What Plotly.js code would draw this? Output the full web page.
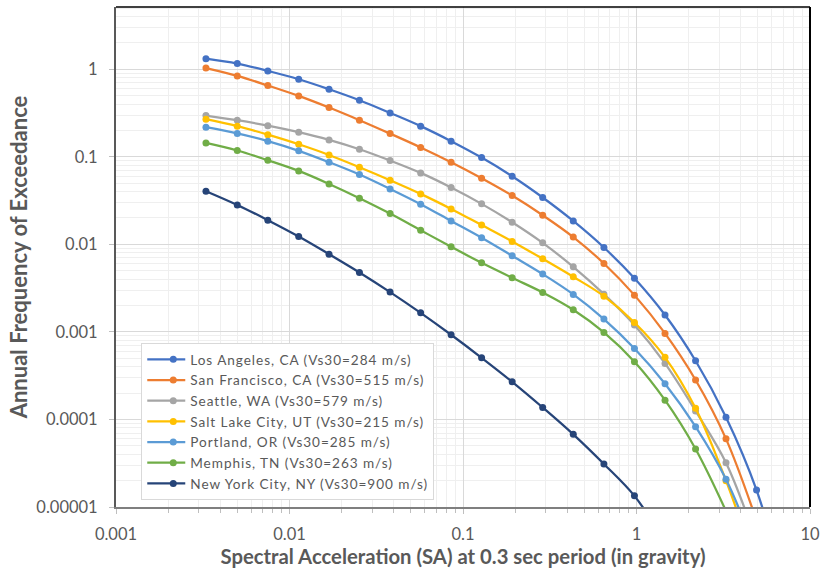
<!DOCTYPE html>
<html><head><meta charset="utf-8">
<script src="https://cdn.plot.ly/plotly-3.0.1.min.js"></script>
<style>
html,body{margin:0;padding:0;background:#fff}
#chart{width:821px;height:575px}
.legendtext{letter-spacing:0.95px}
.legendsymbols{transform:translateX(7px)}
</style>
</head><body><div id="chart"></div>
<script>
// Spectral acceleration (g) sample points
const SA = [0.0033,0.005,0.0075,0.0113,0.0169,0.0253,0.038,0.057,0.0854,0.128,0.192,0.288,0.432,0.649,0.973,1.46,2.19,3.28,4.92,7.38];

const seriesNames = [
  'Los Angeles, CA (Vs30=284 m/s)',
  'San Francisco, CA (Vs30=515 m/s)',
  'Seattle, WA (Vs30=579 m/s)',
  'Salt Lake City, UT (Vs30=215 m/s)',
  'Portland, OR (Vs30=285 m/s)',
  'Memphis, TN (Vs30=263 m/s)',
  'New York City, NY (Vs30=900 m/s)'
];

const losAngeles   = [1.32,1.16,0.957,0.769,0.591,0.443,0.317,0.224,0.151,0.098,0.060,0.0343,0.0185,0.0092,0.0041,0.00156,0.000468,0.000106,0.0000156,0.000001];
const sanFrancisco = [1.03,0.84,0.652,0.496,0.365,0.262,0.184,0.128,0.0868,0.057,0.0361,0.0215,0.0121,0.00605,0.00263,0.00096,0.000282,0.00006,0.000007,null];
const seattle      = [0.296,0.262,0.227,0.191,0.156,0.122,0.0906,0.0655,0.0446,0.029,0.0179,0.0104,0.00553,0.0027,0.0012,0.000437,0.000125,0.000032,0.000004,null];
const saltLake     = [0.269,0.224,0.179,0.139,0.105,0.076,0.054,0.0377,0.0254,0.0166,0.0108,0.00684,0.00426,0.00256,0.00128,0.000512,0.000134,0.00002,0.000002,null];
const portland     = [0.218,0.185,0.151,0.117,0.0868,0.0628,0.043,0.0288,0.0185,0.0119,0.0074,0.00457,0.00268,0.0014,0.000646,0.000256,0.0000826,0.0000207,0.000003,null];
const memphis      = [0.144,0.118,0.0914,0.069,0.049,0.0337,0.0225,0.0145,0.00936,0.00615,0.00415,0.00282,0.00179,0.000986,0.000456,0.000166,0.000046,0.000009,null,null];
const newYork      = [0.0405,0.0282,0.0189,0.0123,0.00773,0.00478,0.00285,0.00165,0.000927,0.000506,0.000269,0.000137,0.0000676,0.000031,0.0000134,0.000004,null,null,null,null];

const xTickVals = [0.001,0.01,0.1,1,10];
const xTickText = ['0.001','0.01','0.1','1','10'];
const yTickVals = [0.00001,0.0001,0.001,0.01,0.1,1];
const yTickText = ['0.00001','0.0001','0.001','0.01','0.1','1'];

const seriesValues = [losAngeles,sanFrancisco,seattle,saltLake,portland,memphis,newYork];
const colors = ['#4472C4','#ED7D31','#A5A5A5','#FFC000','#5B9BD5','#70AD47','#264478'];

function minorVals(lo, hi){
  const out = [];
  for (let e = lo; e < hi; e++) {
    for (let d = 2; d <= 9; d++) out.push(d * Math.pow(10, e));
  }
  return out;
}

const traces = seriesValues.map((vals, i) => ({
  x: SA, y: vals, name: seriesNames[i], type: 'scatter', mode: 'lines+markers',
  line: {color: colors[i], width: 2.25, shape: 'spline', smoothing: 1},
  marker: {color: colors[i], size: 7},
  connectgaps: false
}));

const font = 'Lato, "Open Sans", sans-serif';
const layout = {
  width: 821, height: 575,
  margin: {l: 116, r: 11, t: 7, b: 68},
  paper_bgcolor: '#fff', plot_bgcolor: '#fff',
  font: {family: font, color: '#595959', size: 16.5},
  showlegend: true,
  legend: {
    x: 0.0364, y: 0.328, xanchor: 'left', yanchor: 'top',
    bgcolor: '#fff', bordercolor: '#d9d9d9', borderwidth: 1,
    font: {family: font, size: 13.6, color: '#595959'},
    tracegroupgap: 0, itemwidth: 38
  },
  xaxis: {
    type: 'log', range: [-3, 1],
    tickmode: 'array', tickvals: xTickVals, ticktext: xTickText,
    showgrid: true, gridcolor: '#d9d9d9', gridwidth: 1,
    ticks: 'outside', ticklen: 5, tickcolor: '#bfbfbf',
    showline: true, linecolor: '#7f7f7f', linewidth: 2,
    zeroline: false,
    minor: {tickmode: 'array', tickvals: minorVals(-3, 1), showgrid: true, gridcolor: '#efefef', ticks: 'outside', ticklen: 4, tickcolor: '#bfbfbf'},
    tickfont: {size: 16.5, color: '#595959'},
    ticklabelstandoff: 6,
    title: {text: 'Spectral Acceleration (SA) at 0.3 sec period (in gravity)', font: {size: 20.3, color: '#595959', family: font, weight: 'bold'}, standoff: 3}
  },
  yaxis: {
    type: 'log', range: [-5, 0.711],
    tickmode: 'array', tickvals: yTickVals, ticktext: yTickText,
    showgrid: true, gridcolor: '#d9d9d9', gridwidth: 1,
    ticks: 'outside', ticklen: 5, tickcolor: '#bfbfbf',
    showline: true, linecolor: '#595959', linewidth: 2,
    zeroline: false,
    minor: {tickmode: 'array', tickvals: minorVals(-5, 1), showgrid: true, gridcolor: '#efefef', ticks: ''},
    tickfont: {size: 16.5, color: '#595959'},
    ticklabelstandoff: 8,
    title: {text: 'Annual Frequency of Exceedance', font: {size: 22, color: '#595959', family: font, weight: 'bold'}, standoff: 3}
  },
  shapes: [
    {type: 'line', xref: 'paper', yref: 'paper', x0: 0, x1: 1, y0: 1, y1: 1, line: {color: '#000', width: 1.5}},
    {type: 'line', xref: 'paper', yref: 'paper', x0: 1, x1: 1, y0: 0, y1: 1, line: {color: '#000', width: 2}}
  ]
};

Plotly.newPlot('chart', traces, layout, {displayModeBar: false, staticPlot: true});
</script>
</body></html>
